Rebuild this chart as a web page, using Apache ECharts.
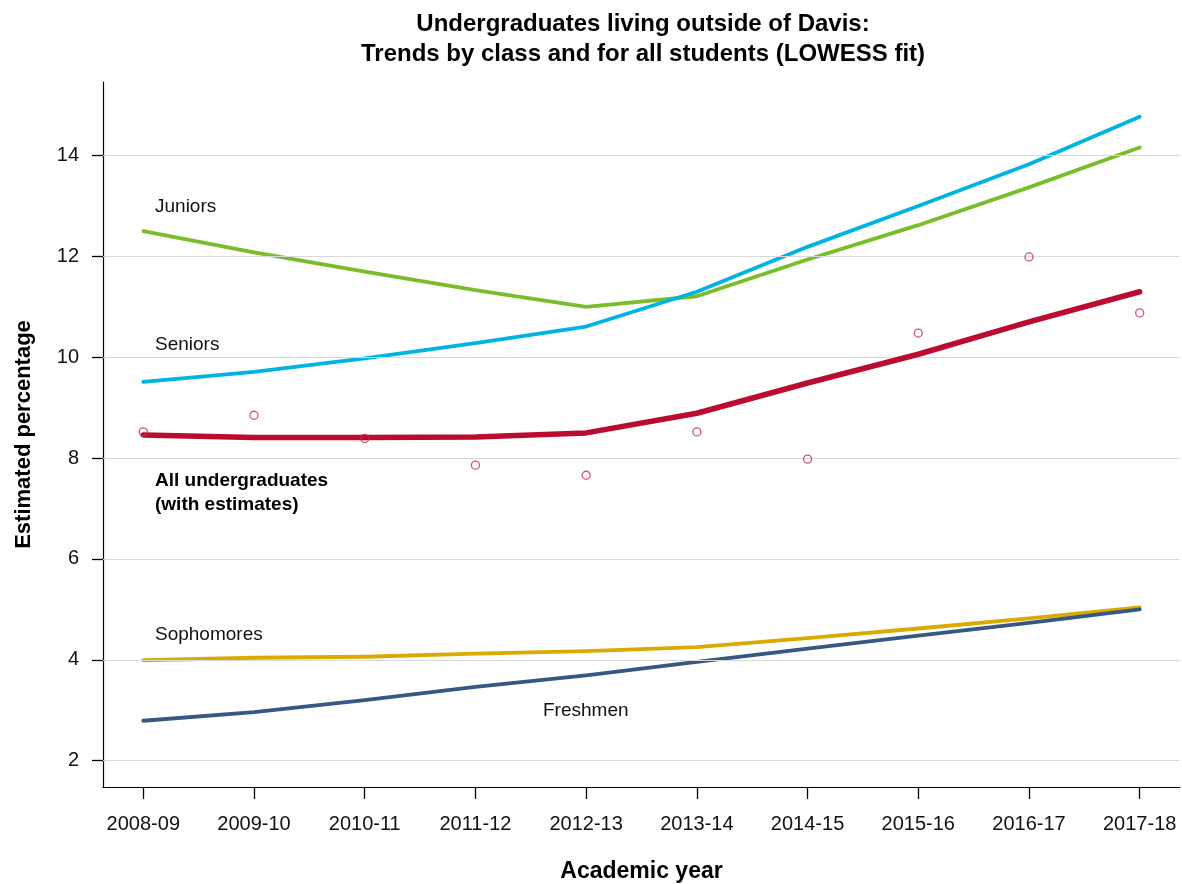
<!DOCTYPE html>
<html>
<head>
<meta charset="utf-8">
<script src="https://cdn.jsdelivr.net/npm/echarts@6/dist/echarts.min.js"></script>
<style>
html,body{margin:0;padding:0;background:#fff;}
#chart{width:1182px;height:884px;}
</style>
</head>
<body>
<div id="chart"></div>
<script>
// ---- data ----
const years = ['2008-09','2009-10','2010-11','2011-12','2012-13','2013-14','2014-15','2015-16','2016-17','2017-18'];
const juniors    = [12.50, 12.08, 11.70, 11.33, 11.00, 11.21, 11.94, 12.62, 13.37, 14.16];
const seniors    = [9.51, 9.71, 9.98, 10.28, 10.61, 11.30, 12.19, 13.00, 13.83, 14.77];
const allFit     = [8.46, 8.41, 8.41, 8.42, 8.50, 8.89, 9.49, 10.06, 10.70, 11.30];
const allEst     = [8.52, 8.85, 8.39, 7.86, 7.66, 8.52, 7.98, 10.48, 11.99, 10.88];
const sophomores = [3.99, 4.04, 4.06, 4.12, 4.17, 4.25, 4.43, 4.62, 4.82, 5.04];
const freshmen   = [2.79, 2.96, 3.20, 3.46, 3.69, 3.96, 4.22, 4.48, 4.73, 5.00];
const yTicks = [2, 4, 6, 8, 10, 12, 14];
const xTicks = years.map((y, i) => i);

const FONT = "'Liberation Sans', Arial, sans-serif";
const pairs = arr => arr.map((v, i) => [i, v]);

const chart = echarts.init(document.getElementById('chart'), null, {renderer: 'canvas'});

function lineSeries(name, arr, color, width, z) {
  return {
    name: name, type: 'line', data: pairs(arr), showSymbol: false, symbol: 'none',
    lineStyle: {color: color, width: width, join: 'round', cap: 'round'},
    z: z, silent: true, animation: false
  };
}

const option = {
  animation: false,
  backgroundColor: '#ffffff',
  title: {
    text: 'Undergraduates living outside of Davis:\nTrends by class and for all students (LOWESS fit)',
    left: 638, top: 4, textAlign: 'center',
    textStyle: {fontFamily: FONT, fontSize: 24, fontWeight: 'bold', color: '#000', lineHeight: 30}
  },
  grid: {left: 103, right: 2, top: 82, bottom: 97, containLabel: false, outerBoundsMode: 'none'},
  xAxis: {
    type: 'value', min: -0.364, max: 9.364,
    name: 'Academic year', nameLocation: 'middle', nameGap: 73,
    nameTextStyle: {fontFamily: FONT, fontSize: 23, fontWeight: 'bold', color: '#000'},
    axisLine: {show: true, onZero: false, lineStyle: {color: '#000', width: 1.2}},
    axisTick: {show: true, length: 12, inside: false, customValues: xTicks, lineStyle: {color: '#000', width: 1.3}},
    axisLabel: {customValues: xTicks, margin: 27, fontFamily: FONT, fontSize: 20, color: '#111',
      formatter: v => years[Math.round(v)] || ''},
    splitLine: {show: false}
  },
  yAxis: {
    type: 'value', min: 1.476, max: 15.46,
    name: 'Estimated percentage', nameLocation: 'middle', nameGap: 68, nameRotate: 90,
    nameTextStyle: {fontFamily: FONT, fontSize: 22, fontWeight: 'bold', color: '#000'},
    axisLine: {show: true, onZero: false, lineStyle: {color: '#000', width: 1.2}},
    axisTick: {show: true, length: 11, inside: false, customValues: yTicks, lineStyle: {color: '#000', width: 1.3}},
    axisLabel: {customValues: yTicks, margin: 24, fontFamily: FONT, fontSize: 20, color: '#111'},
    splitLine: {show: false}
  },
  series: [
    {
      name: 'grid', type: 'line', data: [], z: 1, silent: true,
      markLine: {
        silent: true, symbol: ['none', 'none'], animation: false,
        label: {show: false},
        lineStyle: {color: '#d9d9d9', width: 1.2, type: 'solid'},
        data: yTicks.map(v => ({yAxis: v}))
      }
    },
    lineSeries('Juniors', juniors, '#79BE2A', 3.8, 3),
    lineSeries('Seniors', seniors, '#00B4E1', 3.8, 4),
    lineSeries('Sophomores', sophomores, '#DAAA00', 3.8, 3),
    lineSeries('Freshmen', freshmen, '#355983', 3.8, 3),
    lineSeries('All undergraduates', allFit, '#BC0B31', 5.5, 5),
    {
      name: 'Estimates', type: 'scatter', data: pairs(allEst), symbol: 'circle', symbolSize: 8,
      itemStyle: {color: 'rgba(255,255,255,0)', borderColor: '#C42A4C', borderWidth: 1.3},
      z: 6, silent: true
    }
  ],
  graphic: [
    {type: 'text', left: 155, top: 197, style: {text: 'Juniors', font: "19px " + FONT, fill: '#111'}},
    {type: 'text', left: 155, top: 335, style: {text: 'Seniors', font: "19px " + FONT, fill: '#111'}},
    {type: 'text', left: 155, top: 469, style: {text: 'All undergraduates\n(with estimates)', font: "bold 19px " + FONT, fill: '#000', lineHeight: 24}},
    {type: 'text', left: 155, top: 625, style: {text: 'Sophomores', font: "19px " + FONT, fill: '#111'}},
    {type: 'text', left: 543, top: 701, style: {text: 'Freshmen', font: "19px " + FONT, fill: '#111'}}
  ]
};
chart.setOption(option);
</script>
</body>
</html>
